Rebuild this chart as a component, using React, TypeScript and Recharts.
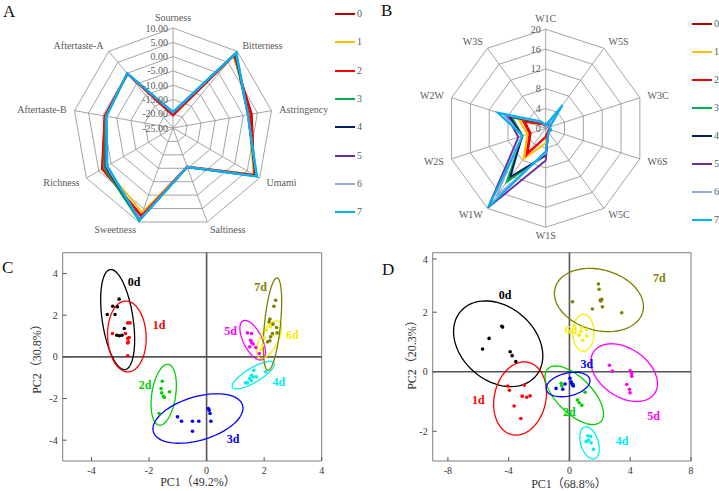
import React from 'react'
import {
  RadarChart, Radar, PolarGrid, PolarAngleAxis, PolarRadiusAxis,
  ScatterChart, Scatter, XAxis, YAxis, ReferenceLine, ReferenceArea,
} from 'recharts'

const SERIF = '"Liberation Serif", "DejaVu Serif", serif'
const TITLE_FONT = '"Liberation Serif", "Noto Sans CJK SC", serif'

// storage days shown in the radar legends
const SERIES_NAMES = ['0', '1', '2', '3', '4', '5', '6', '7']
const SERIES_COLORS = ['#C00000', '#FFC000', '#FF0000', '#00B050', '#002060', '#7030A0', '#8FAADC', '#00B0F0']

// A - electronic tongue
const TASTE_AXES = ['Sourness', 'Bitterness', 'Astringency', 'Umami', 'Saltiness', 'Sweetness', 'Richness', 'Aftertaste-B', 'Aftertaste-A']
const TASTE_DOMAIN = [-25, 10]
const TASTE_VALUES = [
  [-20.5, 8.0, 3.0, 7.8, -10.6, 7.5, 3.7, -0.7, -0.3],
  [-20.2, 8.3, 2.0, 7.6, -10.4, 6.5, 2.5, -1.0, -0.2],
  [-20.6, 8.4, 2.6, 7.9, -10.5, 7.8, 3.5, -0.8, -0.2],
  [-19.8, 8.8, 1.6, 8.3, -10.5, 9.6, 2.8, -1.1, -0.1],
  [-19.6, 9.0, 1.7, 8.5, -10.4, 9.2, 2.2, -1.2, -0.1],
  [-19.7, 9.2, 1.7, 8.6, -10.5, 9.0, 2.0, -1.3, 0.0],
  [-19.5, 9.4, 1.6, 8.8, -10.5, 9.2, 1.8, -1.3, 0.0],
  [-19.3, 9.6, 1.6, 9.0, -10.4, 9.4, 1.5, -1.4, 0.0],
]

// B - electronic nose
const SENSOR_AXES = ['W1C', 'W5S', 'W3C', 'W6S', 'W5C', 'W1S', 'W1W', 'W2S', 'W2W', 'W3S']
const SENSOR_DOMAIN = [0, 20]
const SENSOR_VALUES = [
  [0.8, 1.5, 0.8, 0.9, 0.8, 1.8, 6.2, 3.2, 4.5, 1.0],
  [0.7, 1.6, 0.7, 0.9, 0.8, 3.0, 7.6, 3.9, 5.7, 1.2],
  [0.8, 1.5, 0.8, 0.9, 0.8, 1.7, 6.6, 3.4, 4.8, 1.0],
  [0.6, 1.8, 0.7, 1.0, 0.9, 5.4, 13.4, 4.9, 7.2, 1.4],
  [0.6, 1.9, 0.7, 1.0, 0.9, 5.5, 12.2, 5.0, 7.7, 1.5],
  [0.5, 2.0, 0.6, 1.0, 0.9, 6.5, 19.8, 5.8, 8.3, 1.6],
  [0.6, 2.6, 0.7, 1.1, 1.0, 5.0, 17.0, 5.0, 9.0, 1.6],
  [0.7, 5.8, 0.9, 1.2, 1.0, 4.7, 19.7, 4.9, 10.2, 1.8],
]

// C / D - PCA groups
const PCA_GROUPS = ['0d', '1d', '2d', '3d', '4d', '5d', '6d', '7d']
const PCA_COLORS = ['#000000', '#FF0000', '#00D000', '#0000FF', '#00F0F0', '#FF00FF', '#F0F000', '#808000']

const TONGUE_POINTS = [
  [[-3.04, 2.77], [-3.26, 2.43], [-3.1, 2.4], [-3.45, 2.03], [-3.18, 2.03], [-2.86, 1.36], [-3.12, 1.04], [-3.03, 1.01], [-2.94, 1.04]],
  [[-2.74, 1.63], [-2.66, 1.63], [-3.27, 1.12], [-2.82, 1.12], [-2.74, 0.88], [-2.69, 0.93], [-2.72, 0.72], [-2.74, 0.67], [-2.74, 0.05]],
  [[-1.54, -1.17], [-1.58, -1.52], [-1.56, -1.73], [-1.5, -1.89], [-1.47, -1.95], [-1.29, -1.68], [-1.65, -2.72]],
  [[-1.01, -2.88], [-0.87, -3.09], [-0.49, -3.09], [-0.27, -3.09], [-0.49, -3.57], [0.06, -2.48], [0.09, -2.56], [0.12, -2.72], [0.15, -3.09]],
  [[1.64, -0.64], [1.56, -0.88], [1.62, -0.96], [1.73, -0.96], [1.5, -1.04], [1.42, -1.25], [1.56, -1.15], [2.06, -0.72], [1.35, -1.25]],
  [[1.42, 1.15], [1.56, 1.12], [1.53, 0.8], [1.56, 0.69], [1.5, 0.48], [1.71, 0.45], [1.83, 0.16], [1.62, 0.62]],
  [[2.08, 1.28], [2.22, 1.45], [2.0, 0.9], [1.95, 0.55], [2.12, 0.72], [2.3, 1.05], [1.9, 0.35]],
  [[2.4, 2.72], [2.34, 2.43], [2.2, 1.81], [2.17, 1.68], [2.31, 1.57], [2.43, 1.41], [2.45, 1.15], [2.29, 1.12], [2.22, 0.96], [2.2, 0.77], [2.12, 0.72]],
]
// confidence ellipses: centre x, centre y, then two conjugate half-axes (x, y)
const TONGUE_ELLIPSES = [
  [-3.09, 1.79, -0.26, 2.4, 0.53, 0.11],
  [-2.77, 0.98, -0.035, 1.7, 0.67, 0.0],
  [-1.49, -1.82, 0.16, 1.46, 0.41, -0.09],
  [-0.3, -2.96, 1.55, 0.64, 0.215, -1.0],
  [1.62, -0.88, 0.72, 0.59, 0.13, -0.3],
  [1.6, 0.8, 0.335, -0.93, 0.29, 0.2],
  [2.17, 0.83, 0.335, 0.88, 0.276, -0.2],
  [2.29, 1.57, 0.16, 2.22, 0.276, -0.04],
]
const TONGUE_LABELS = [[-2.52, 3.6], [-1.65, 1.52], [-2.14, -1.36], [0.92, -3.92], [2.51, -1.23], [0.83, 1.25], [2.98, 1.07], [1.88, 3.36]]

const NOSE_POINTS = [
  [[-4.45, 1.53], [-5.29, 1.12], [-5.72, 0.76], [-3.9, 0.67], [-3.77, 0.54], [-3.53, 0.34], [-4.4, 1.5]],
  [[-4.06, -0.48], [-3.95, -0.62], [-2.96, -0.45], [-3.11, -0.82], [-2.81, -0.86], [-2.59, -0.81], [-3.64, -1.15], [-3.2, -1.57]],
  [[-0.55, -0.39], [-0.5, -0.48], [0.26, -0.43], [0.53, -0.95], [0.64, -1.04], [0.81, -1.13], [1.03, -0.69]],
  [[-0.88, -0.56], [-0.44, -0.59], [-0.29, -0.41], [0.04, -0.22], [0.11, -0.34], [0.15, -0.39], [0.2, -0.45], [0.26, -0.48]],
  [[1.21, -2.15], [1.4, -2.18], [1.25, -2.3], [1.1, -2.35], [1.43, -2.39], [1.58, -2.61]],
  [[2.63, 0.22], [2.83, 0.02], [3.99, 0.03], [4.1, -0.06], [4.1, -0.15], [3.77, -0.43], [3.95, -0.59], [3.99, -0.71]],
  [[0.81, 1.49], [1.1, 1.42], [0.64, 1.23], [1.14, 1.2], [0.88, 1.06], [0.75, 1.35]],
  [[1.91, 2.95], [1.95, 2.77], [0.2, 2.35], [2.02, 2.41], [2.13, 2.43], [2.06, 2.38], [1.51, 2.11], [2.17, 2.18], [3.44, 1.98]],
]
const NOSE_ELLIPSES = [
  [-4.69, 0.94, 2.47, -1.09, -1.59, -0.94],
  [-3.25, -0.9, 0.18, 1.23, 1.73, 0.064],
  [0.32, -0.79, 1.74, -0.89, -0.82, -0.42],
  [-0.09, -0.43, 1.43, 0.173, 0.172, -0.373],
  [1.32, -2.39, 0.33, -0.53, -0.55, -0.09],
  [3.6, -0.03, 2.0, -0.705, -0.9, -0.666],
  [0.92, 1.31, 0.0, 0.62, 0.7, 0.0],
  [1.94, 2.41, 2.88, -0.41, -0.54, -0.98],
]
const NOSE_LABELS = [[-4.23, 2.58], [-5.99, -0.95], [0.0, -1.37], [1.14, 0.26], [3.46, -2.32], [5.53, -1.48], [0.11, 1.4], [5.92, 3.14]]

function toRows(axes: string[], values: number[][]) {
  return axes.map((axis, i) => {
    const row: Record<string, string | number> = { axis }
    SERIES_NAMES.forEach((s, k) => { row['s' + s] = values[k][i] })
    return row
  })
}

// sample the ellipse outline in data units; the chart scales place it
function ellipseTrace(e: number[]) {
  const [cx, cy, mx, my, nx, ny] = e
  const pts = []
  for (let i = 0; i <= 90; i++) {
    const t = (i / 90) * Math.PI * 2
    pts.push({ x: cx + mx * Math.cos(t) + nx * Math.sin(t), y: cy + my * Math.cos(t) + ny * Math.sin(t) })
  }
  return pts
}

const grayText = { fontFamily: SERIF, fontSize: 10, fill: '#595959' }

function RadarPanel({ rows, domain, tickCount, cx, cy, r, fmt, width }: any) {
  const angleTick = (p: any) => {
    // the top label sits a little higher so it clears the first tick value
    const lift = Math.abs(p.x - cx) < 1 && p.y < cy ? -3 : 0
    return (
      <text x={p.x} y={p.y + lift} textAnchor={p.textAnchor} dominantBaseline="central" {...grayText}>
        {p.payload.value}
      </text>
    )
  }
  const radiusTick = (p: any) => (
    <text x={p.x - 5} y={p.y} textAnchor="end" dominantBaseline="central" {...grayText}>
      {fmt(p.payload.value)}
    </text>
  )
  return (
    <RadarChart width={width} height={245} cx={cx} cy={cy} outerRadius={r} data={rows} margin={{ top: 0, right: 0, bottom: 0, left: 0 }}>
      <PolarGrid stroke="#9a9a9a" strokeWidth={0.9} />
      <PolarAngleAxis dataKey="axis" tickLine={false} axisLine={false} tick={angleTick} />
      <PolarRadiusAxis angle={90} domain={domain} tickCount={tickCount} axisLine={false} tick={radiusTick} />
      {SERIES_NAMES.map((s, k) => (
        <Radar key={s} dataKey={'s' + s} stroke={SERIES_COLORS[k]} strokeWidth={2} fill="none" fillOpacity={0} dot={false} isAnimationActive={false} />
      ))}
    </RadarChart>
  )
}

function RadarLegend({ left, top, step }: any) {
  return (
    <>
      {SERIES_NAMES.map((s, k) => (
        <div key={s}>
          <div style={{ position: 'absolute', left, top: top + step * k - 1, width: 20, height: 2, background: SERIES_COLORS[k] }} />
          <div style={{ position: 'absolute', left: left + 22, top: top + step * k - 7, fontFamily: SERIF, fontSize: 10, color: '#595959', lineHeight: '14px' }}>{s}</div>
        </div>
      ))}
    </>
  )
}

const XTick = (p: any) => (
  <g>
    <line x1={p.x} x2={p.x} y1={p.y} y2={p.y - 4} stroke="#555" />
    <text x={p.x} y={p.y + 9} textAnchor="middle" dominantBaseline="central" fontFamily={SERIF} fontSize={10} fill="#333">{p.payload.value}</text>
  </g>
)
const YTick = (p: any) => (
  <g>
    <line x1={p.x} x2={p.x + 4} y1={p.y} y2={p.y} stroke="#555" />
    <text x={p.x - 5} y={p.y} textAnchor="end" dominantBaseline="central" fontFamily={SERIF} fontSize={10} fill="#333">{p.payload.value}</text>
  </g>
)

const noShape = () => <g />
const dotShape = (color: string) => (p: any) => <circle cx={p.cx} cy={p.cy} r={1.8} fill={color} />
const labelShape = (p: any) => (
  <text x={p.cx} y={p.cy} textAnchor="middle" dominantBaseline="central" fontFamily={SERIF} fontWeight="bold" fontSize={12} fill={p.payload.color}>
    {p.payload.label}
  </text>
)

function PcaPanel({ points, ellipses, labels, xDomain, yDomain, xTicks, yTicks, width, margin }: any) {
  const labelData = labels.map(([x, y]: number[], i: number) => ({ x, y, label: PCA_GROUPS[i], color: PCA_COLORS[i] }))
  return (
    <ScatterChart width={width} height={241} margin={margin}>
      <XAxis type="number" dataKey="x" domain={xDomain} ticks={xTicks} allowDataOverflow axisLine={false} tickLine={false} tickSize={0} tickMargin={0} height={30} tick={XTick} />
      <YAxis type="number" dataKey="y" domain={yDomain} ticks={yTicks} allowDataOverflow axisLine={false} tickLine={false} tickSize={0} tickMargin={0} width={40} tick={YTick} />
      <ReferenceArea x1={xDomain[0]} x2={xDomain[1]} y1={yDomain[0]} y2={yDomain[1]} fill="#fff" fillOpacity={0} stroke="#7f7f7f" strokeOpacity={1} />
      <ReferenceLine x={0} stroke="#555" strokeWidth={1.6} />
      <ReferenceLine y={0} stroke="#555" strokeWidth={1.6} />
      {PCA_GROUPS.map((g, i) => (
        <Scatter key={'e' + g} data={ellipseTrace(ellipses[i])} line={{ stroke: PCA_COLORS[i], strokeWidth: 1.3 }} shape={noShape} isAnimationActive={false} />
      ))}
      {PCA_GROUPS.map((g, i) => (
        <Scatter key={'p' + g} data={points[i].map(([x, y]: number[]) => ({ x, y }))} shape={dotShape(PCA_COLORS[i])} isAnimationActive={false} />
      ))}
      <Scatter data={labelData} shape={labelShape} isAnimationActive={false} />
    </ScatterChart>
  )
}

const letter = (text: string, left: number, top: number) => (
  <div style={{ position: 'absolute', left, top, fontFamily: SERIF, fontSize: 17, lineHeight: '17px', color: '#111' }}>{text}</div>
)
const xTitle = (text: string, cx: number, cy: number) => (
  <div style={{ position: 'absolute', left: cx - 60, top: cy - 8, width: 120, textAlign: 'center', fontFamily: TITLE_FONT, fontSize: 12, lineHeight: '16px', color: '#333' }}>{text}</div>
)
const yTitle = (text: string, cx: number, cy: number) => (
  <div style={{ position: 'absolute', left: cx - 60, top: cy - 8, width: 120, textAlign: 'center', fontFamily: TITLE_FONT, fontSize: 12, lineHeight: '16px', color: '#333', transform: 'rotate(-90deg)' }}>{text}</div>
)

export default function App() {
  const tasteRows = toRows(TASTE_AXES, TASTE_VALUES)
  const sensorRows = toRows(SENSOR_AXES, SENSOR_VALUES)
  return (
    <div style={{ position: 'absolute', left: 0, top: 0, width: 719, height: 491, background: '#fff', overflow: 'hidden' }}>
      <div style={{ position: 'absolute', left: 0, top: 0 }}>
        <RadarPanel rows={tasteRows} domain={TASTE_DOMAIN} tickCount={8} cx={173} cy={128} r={100} width={335} fmt={(v: number) => v.toFixed(2)} />
      </div>
      <RadarLegend left={335} top={14} step={28.3} />

      <div style={{ position: 'absolute', left: 360, top: 0 }}>
        <RadarPanel rows={sensorRows} domain={SENSOR_DOMAIN} tickCount={6} cx={185.7} cy={128.3} r={99} width={330} fmt={(v: number) => String(v)} />
      </div>
      <RadarLegend left={692} top={24} step={28} />

      <div style={{ position: 'absolute', left: 0, top: 250 }}>
        <PcaPanel points={TONGUE_POINTS} ellipses={TONGUE_ELLIPSES} labels={TONGUE_LABELS}
          xDomain={[-5, 4]} yDomain={[-5, 5]} xTicks={[-4, -2, 0, 2, 4]} yTicks={[-4, -2, 0, 2, 4]}
          width={335} margin={{ top: 2.7, right: 13.3, bottom: 0, left: 22.7 }} />
      </div>
      <div style={{ position: 'absolute', left: 360, top: 250 }}>
        <PcaPanel points={NOSE_POINTS} ellipses={NOSE_ELLIPSES} labels={NOSE_LABELS}
          xDomain={[-9, 8]} yDomain={[-3, 4]} xTicks={[-8, -4, 0, 4, 8]} yTicks={[-2, 0, 2, 4]}
          width={345} margin={{ top: 2.7, right: 14, bottom: 0, left: 32.7 }} />
      </div>

      {letter('A', 3, 3)}
      {letter('B', 381, 2)}
      {letter('C', 2, 259)}
      {letter('D', 382, 261)}

      {xTitle('PC1（49.2%）', 198, 482)}
      {yTitle('PC2（30.8%）', 37, 356)}
      {xTitle('PC1（68.8%）', 569, 484)}
      {yTitle('PC2（20.3%）', 412, 352)}
    </div>
  )
}
